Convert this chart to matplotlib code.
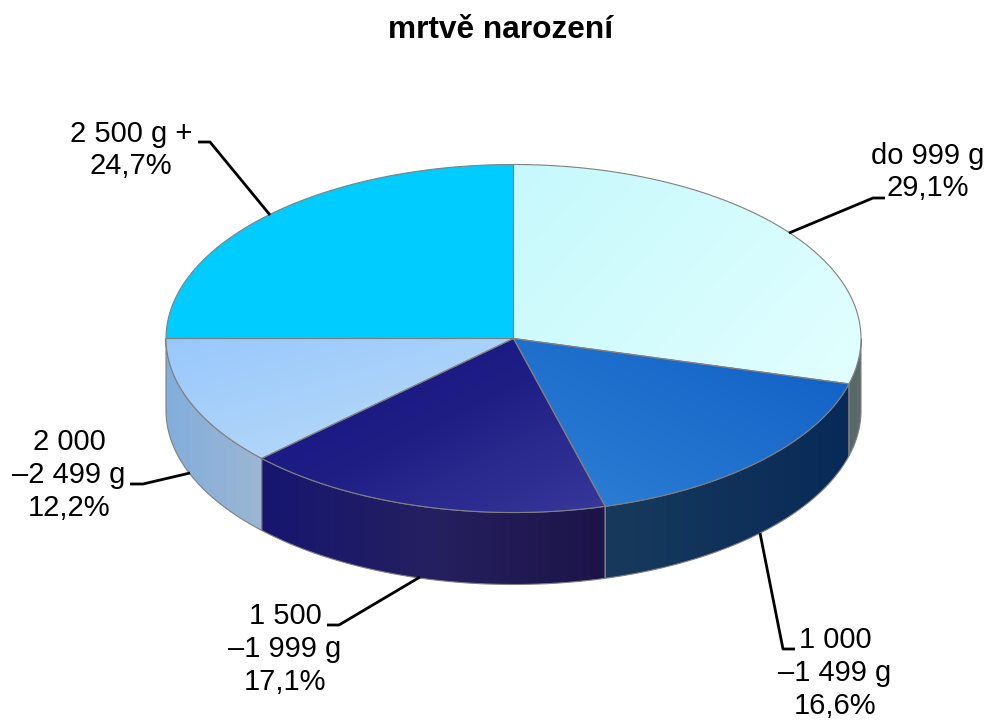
import numpy as np
import matplotlib
matplotlib.use("Agg")
import matplotlib.pyplot as plt
from matplotlib.colors import LinearSegmentedColormap
from matplotlib.patches import Polygon

plt.rcParams['font.family'] = ['Liberation Sans', 'DejaVu Sans']

title = "mrtvě narození"
categories = ["do 999 g", "1 000\n–1 499 g", "1 500\n–1 999 g", "2 000\n–2 499 g", "2 500 g +"]
shares = [29.2, 16.55, 17.15, 12.1, 25.0]
share_labels = ["29,1%", "16,6%", "17,1%", "12,2%", "24,7%"]

# gradient stops for the top faces and the side walls
top_colors = [("#c6f9fc", "#e2ffff"), ("#2f80d4", "#0f5fc6"), ("#14147e", "#1e1e85", "#38389a"),
              ("#98c8fc", "#bcdcf8"), ("#00ccff", "#00ccff")]
top_angles = [30, -45, 45, 50, 0]
side_colors = [("#566866", "#5e6c6c"), ("#173a5c", "#082a58"), ("#161670", "#25205f", "#1c1448"),
               ("#82aedc", "#9cb6d2"), ("#82aedc", "#9cb6d2")]

cx, cy, rx, ry, depth = 513.5, 338.5, 347.5, 174, 72

fig = plt.figure(figsize=(9.88, 7.22), dpi=100)
ax = fig.add_axes([0, 0, 1, 1])
ax.set_xlim(0, 988)
ax.set_ylim(722, 0)
ax.axis("off")


def rim(a0, a1, n=120):
    # angles in degrees, clockwise from the top
    t = np.radians(np.linspace(a0, a1, n))
    return cx + rx * np.sin(t), cy - ry * np.cos(t)


def fill_gradient(xy, stops, angle, zorder):
    poly = Polygon(xy, closed=True, facecolor="none", edgecolor="none", transform=ax.transData)
    ax.add_patch(poly)
    x0, x1 = xy[:, 0].min(), xy[:, 0].max()
    y0, y1 = xy[:, 1].min(), xy[:, 1].max()
    gx, gy = np.meshgrid(np.linspace(0, 1, 200), np.linspace(0, 1, 200))
    g = np.cos(np.radians(angle)) * gx + np.sin(np.radians(angle)) * gy
    g = (g - g.min()) / (g.max() - g.min())
    cmap = LinearSegmentedColormap.from_list("g", list(stops))
    im = ax.imshow(g, extent=[x0, x1, y1, y0], cmap=cmap, aspect="auto", zorder=zorder, interpolation="bilinear")
    im.set_clip_path(poly)


edges = np.concatenate([[0], np.cumsum(shares)]) / sum(shares) * 360

# side walls, only the part of the rim facing the viewer (90..270 deg)
for i in range(len(shares)):
    a0, a1 = max(edges[i], 90), min(edges[i + 1], 270)
    if a1 <= a0:
        continue
    x, y = rim(a0, a1)
    xy = np.column_stack([np.r_[x, x[::-1]], np.r_[y, y[::-1] + depth]])
    fill_gradient(xy, side_colors[i], 0, 2)
    ax.add_patch(Polygon(xy, closed=True, facecolor="none", edgecolor="#808080", linewidth=0.8, zorder=3))

# top faces
for i in range(len(shares)):
    x, y = rim(edges[i], edges[i + 1])
    xy = np.column_stack([np.r_[cx, x], np.r_[cy, y]])
    fill_gradient(xy, top_colors[i], top_angles[i], 4)
    ax.add_patch(Polygon(xy, closed=True, facecolor="none", edgecolor="#808080", linewidth=0.8, zorder=5))

ax.text(500, 30, title, fontsize=22.8, fontweight="bold", ha="center", va="center")

# label text centres and their leader lines
label_pos = [(928, 172), (835, 673), (285, 649), (69, 475), (131, 150)]
leaders = [
    [(789, 233), (873, 198), (885, 198)],
    [(760, 533), (783, 649), (795, 649)],
    [(420, 577), (339, 625), (327, 625)],
    [(190, 473), (143, 484), (130, 484)],
    [(270, 215), (210, 142), (198, 142)],
]
for i in range(len(shares)):
    px, py = zip(*leaders[i])
    ax.plot(px, py, color="black", linewidth=2, zorder=6, solid_capstyle="butt")
    ax.text(label_pos[i][0], label_pos[i][1], categories[i] + "\n" + share_labels[i],
            fontsize=21, ha="center", va="center", linespacing=1.22, color="black")

ax.set_xlim(0, 988)
ax.set_ylim(722, 0)
fig.savefig("out.png", dpi=100)
